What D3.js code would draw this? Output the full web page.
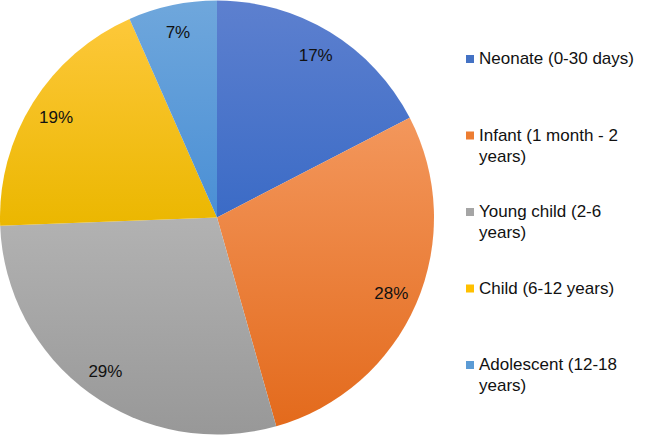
<!DOCTYPE html>
<html>
<head>
<meta charset="utf-8">
<script src="https://cdn.jsdelivr.net/npm/d3@7"></script>
<style>
  html, body { margin: 0; padding: 0; background: #ffffff; }
  svg { display: block; }
</style>
</head>
<body>
<svg id="chart" width="646" height="435"></svg>
<script>
// ---- data ----
const categories = ["Neonate (0-30 days)", "Infant (1 month - 2 years)", "Young child (2-6 years)", "Child (6-12 years)", "Adolescent (12-18 years)"];
const legendLines = [["Neonate (0-30 days)"], ["Infant (1 month - 2", "years)"], ["Young child (2-6", "years)"], ["Child (6-12 years)"], ["Adolescent (12-18", "years)"]];
const values = [17.4, 28.2, 28.8, 19.0, 6.6];
const valueLabels = ["17%", "28%", "29%", "19%", "7%"];
const baseColors = ["#4472c4", "#ed7d31", "#a5a5a5", "#ffc000", "#5b9bd5"];
const topColors = ["#5d80cf", "#f3975c", "#b2b2b2", "#fdc83a", "#6fa7dc"];
const bottomColors = ["#3b6bc6", "#e36a1c", "#989898", "#ebb700", "#4a8fd5"];

const svg = d3.select("#chart");
const W = 646, H = 435;
const cx = 217, cy = 217.5, R = 217;

const defs = svg.append("defs");
categories.forEach((c, i) => {
  const g = defs.append("linearGradient")
    .attr("id", "grad" + i)
    .attr("x1", 0).attr("y1", 0).attr("x2", 0).attr("y2", 1);
  g.append("stop").attr("offset", "0%").attr("stop-color", topColors[i]);
  g.append("stop").attr("offset", "100%").attr("stop-color", bottomColors[i]);
});

const pie = d3.pie().sort(null).value(d => d)(values);
const arc = d3.arc().innerRadius(0).outerRadius(R);
const labelArc = d3.arc().innerRadius(R * 0.875).outerRadius(R * 0.875);

const gPie = svg.append("g").attr("transform", `translate(${cx},${cy})`);
gPie.selectAll("path.slice")
  .data(pie)
  .join("path")
  .attr("class", "slice")
  .attr("d", arc)
  .attr("fill", (d, i) => `url(#grad${i})`);

gPie.selectAll("text.lbl")
  .data(pie)
  .join("text")
  .attr("class", "lbl")
  .attr("transform", d => `translate(${labelArc.centroid(d)})`)
  .attr("text-anchor", "middle")
  .attr("dy", "0.35em")
  .attr("font-family", "'Liberation Sans', Arial, sans-serif")
  .attr("font-size", 17)
  .attr("fill", "#111")
  .text((d, i) => valueLabels[i]);

// ---- legend ----
const legendX = 466, legendY0 = 64, legendStep = 76.5, lineH = 21;
const yLegend = d3.scaleLinear().domain([0, 1]).range([legendY0, legendY0 + legendStep]);
const lg = svg.append("g");
const items = lg.selectAll("g.item")
  .data(categories)
  .join("g")
  .attr("class", "item")
  .attr("transform", (d, i) => `translate(${legendX},${yLegend(i)})`);
items.append("rect")
  .attr("x", 0).attr("y", -9)
  .attr("width", 8).attr("height", 8)
  .attr("fill", (d, i) => baseColors[i]);
items.each(function(d, i) {
  const t = d3.select(this).append("text")
    .attr("x", 13).attr("y", 0)
    .attr("font-family", "'Liberation Sans', Arial, sans-serif")
    .attr("font-size", 17)
    .attr("fill", "#111");
  legendLines[i].forEach((ln, k) => {
    t.append("tspan").attr("x", 13).attr("y", k * lineH).text(ln);
  });
});
</script>
</body>
</html>
